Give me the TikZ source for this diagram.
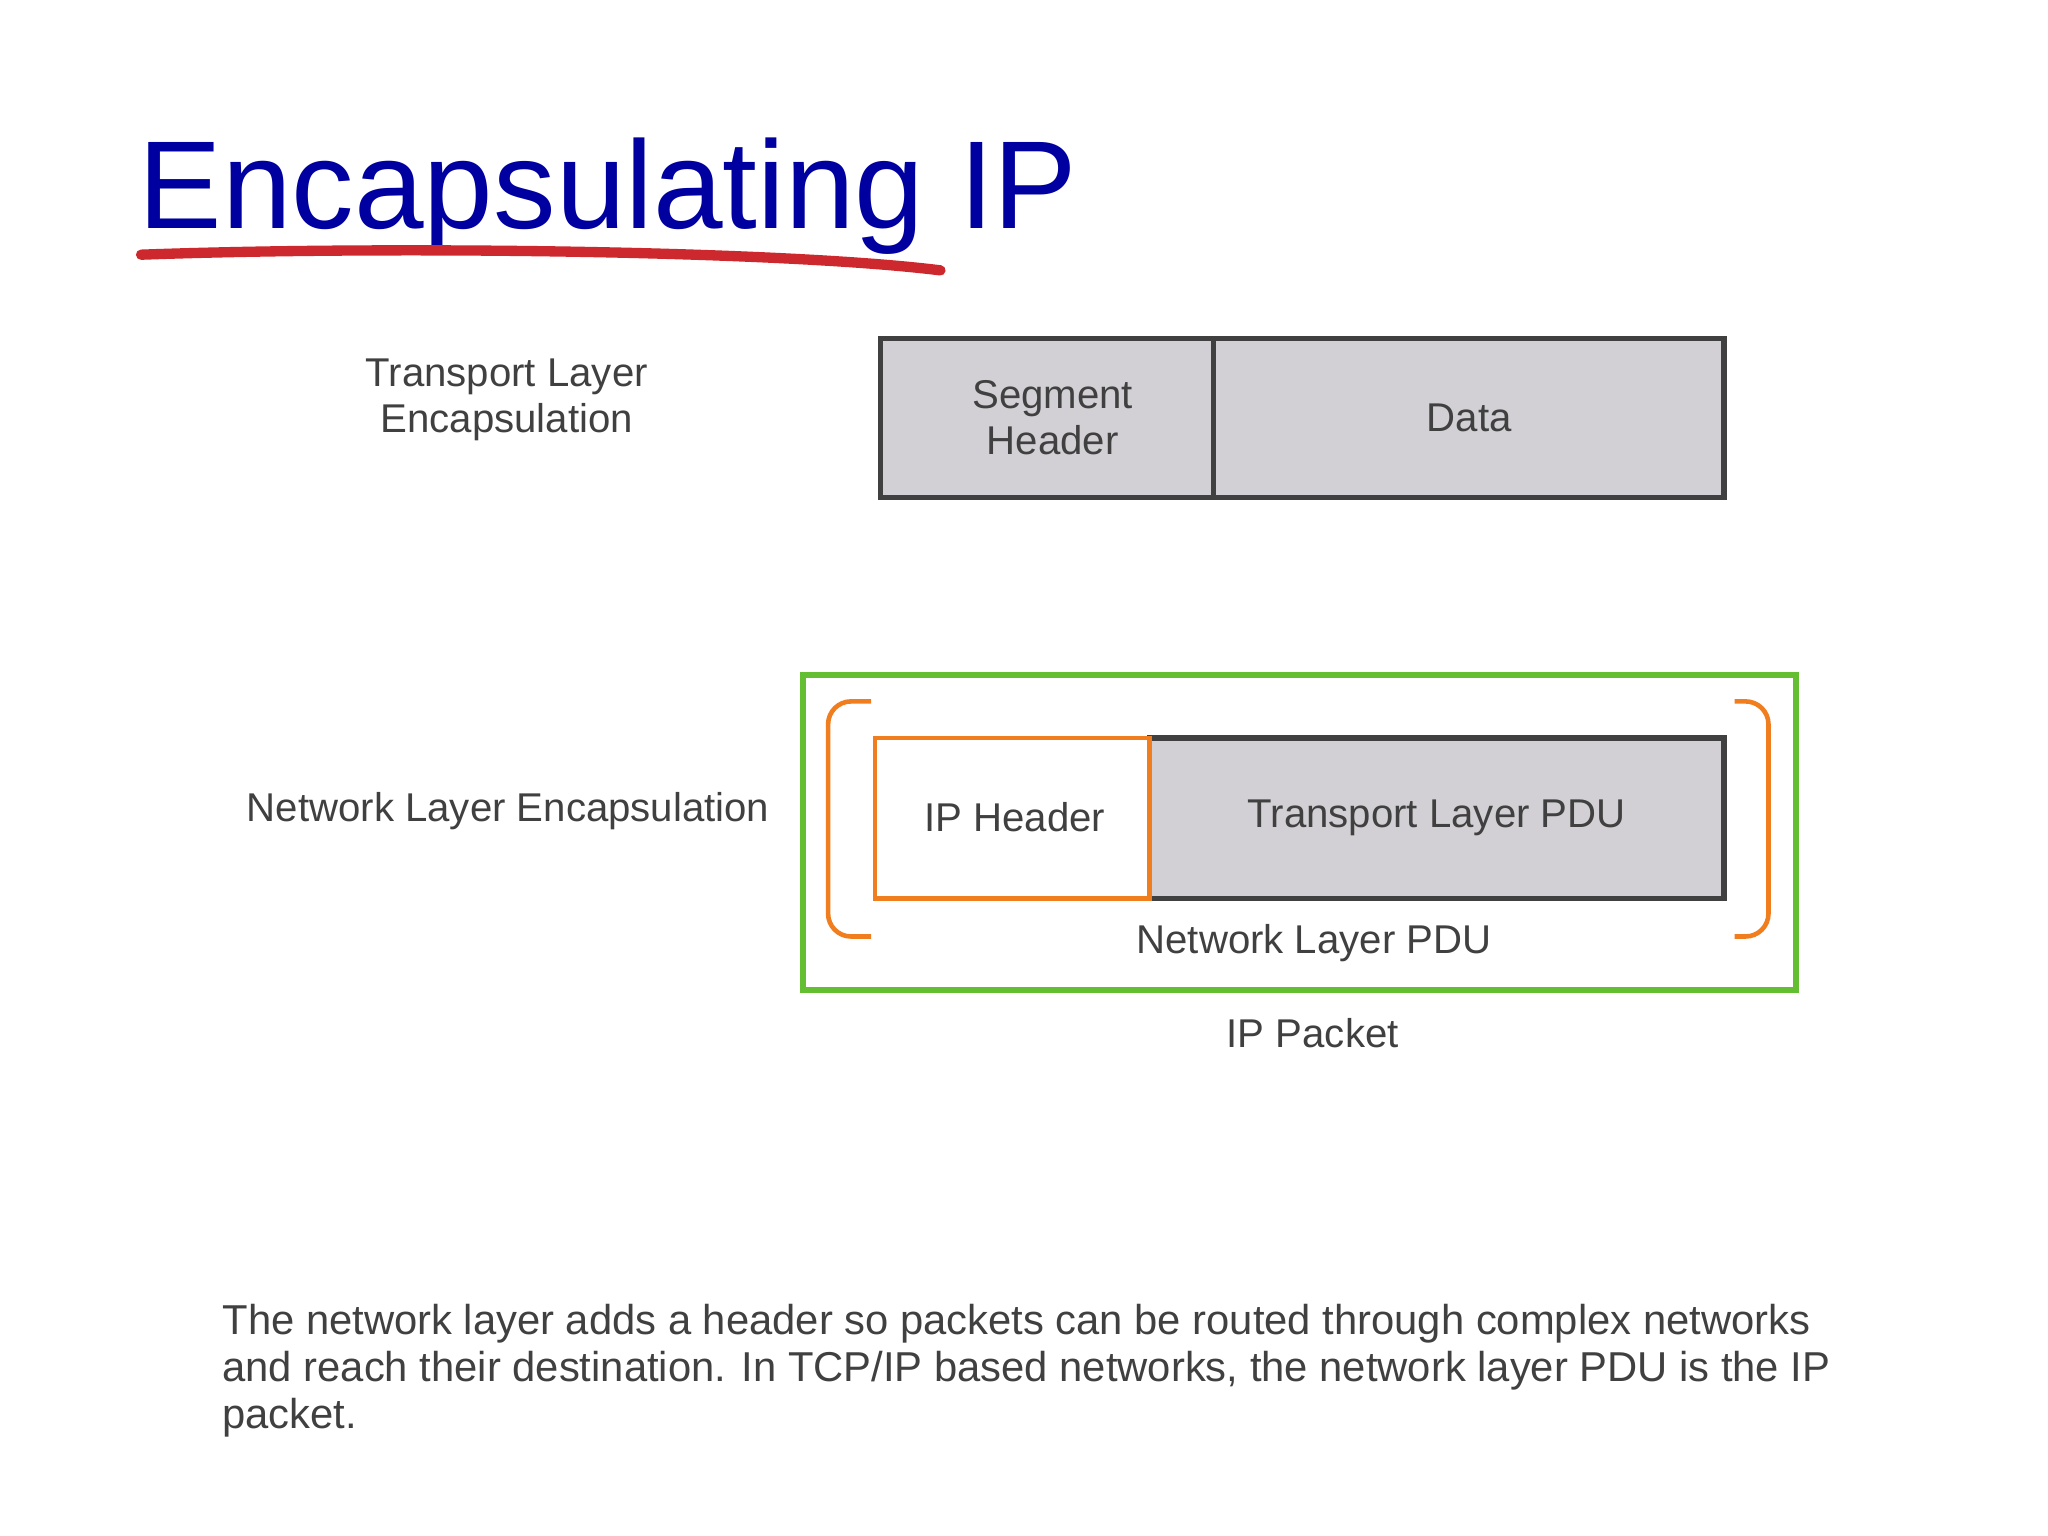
\documentclass[tikz,border=0pt]{standalone}
\usepackage{fontspec}
\setmainfont{Liberation Sans}
\definecolor{boxgray}{RGB}{210,208,212}
\definecolor{orng}{RGB}{240,125,30}
\begin{document}
\begin{tikzpicture}[x=0.02cm,y=-0.02cm,
  lbl/.style={font=\fontsize{17.5}{20}\selectfont,text=black!75,align=center,inner sep=0},
  gbox/.style={fill=boxgray,draw=black!75,line width=2.3pt},
  br/.style={draw=orng,line width=2pt,rounded corners=10}]
\useasboundingbox (0,0) rectangle (1568,1176);
\node[anchor=base west,inner sep=0,text={rgb,255:red,0;green,0;blue,160},font=\fontsize{54.5}{60}\selectfont] (title) at (106,175) {Encapsulating IP};
\draw[line width=4.5pt,line cap=round,color={rgb,255:red,205;green,40;blue,45}] (108,195) .. controls (300,188) and (600,192) .. (720,207);
% transport
\draw[gbox] (674,259) rectangle (929,381);
\draw[gbox] (929,259) rectangle (1320,381);
\coordinate (segc) at (806,320);
\coordinate (datac) at (1125,320);
\node[lbl] (segt) at (segc) {Segment\\Header};
\node[lbl] (datat) at (datac) {Data};
\node[lbl] (tle) at (388,306) {Transport Layer\\Encapsulation};
% network
\draw[line width=2.8pt,color={rgb,255:red,100;green,190;blue,50}] (615,517) rectangle (1375,758);
\draw[gbox] (880,565) rectangle (1320,688);
\draw[draw=orng,line width=2pt,fill=white] (670,565) rectangle (880,688);
\node[lbl] (iph) at (777,626) {IP Header};
\node[lbl] (pdu) at (1100,626) {Transport Layer PDU};
\draw[br] (667,537) -- (634,537) -- (634,717) -- (667,717);
\draw[br] (1328,537) -- (1354,537) -- (1354,717) -- (1328,717);
\node[lbl] (nlp) at (1006,722) {Network Layer PDU};
\node[lbl] (ipp) at (1005,791) {IP Packet};
\node[lbl] (nle) at (389,621) {Network Layer Encapsulation};
\node[anchor=north west,inner sep=0,text=black!75,font=\fontsize{18.2}{20.5}\selectfont,align=left] (para) at (170,998) {The network layer adds a header so packets can be routed through complex networks\\and reach their destination. In TCP/IP based networks, the network layer PDU is the IP\\packet.};
\end{tikzpicture}
\end{document}
